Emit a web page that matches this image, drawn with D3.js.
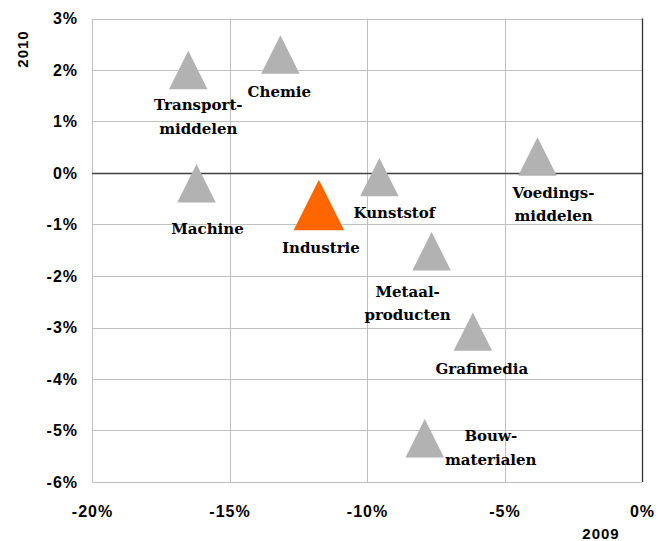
<!DOCTYPE html>
<html>
<head>
<meta charset="utf-8">
<script src="https://cdn.jsdelivr.net/npm/d3@7"></script>
<style>
  body { margin: 0; background: #fff; }
  .tick text { font-family: "Liberation Sans", Arial, sans-serif; font-weight: bold; font-size: 16px; letter-spacing: 1px; fill: #000; }
  .lbl { font-family: "DejaVu Serif", serif; font-weight: bold; font-size: 15px; fill: #000; }
  .title { font-family: "Liberation Sans", Arial, sans-serif; font-weight: bold; font-size: 15px; letter-spacing: 1px; }
</style>
</head>
<body>
<svg id="chart" width="669" height="541"></svg>
<script>
// sectors with growth 2009 (x) and 2010 (y), in percent
var sectors = ["Transport-middelen", "Chemie", "Machine", "Industrie", "Kunststof",
               "Voedings-middelen", "Metaal-producten", "Grafimedia", "Bouw-materialen"];
var growth2009 = [-16.5, -13.15, -16.2, -11.75, -9.55, -3.8, -7.65, -6.15, -7.9];
var growth2010 = [2.0, 2.3, -0.2, -0.62, -0.08, 0.32, -1.52, -3.08, -5.15];
var xTicks = [-20, -15, -10, -5, 0];
var yTicks = [3, 2, 1, 0, -1, -2, -3, -4, -5, -6];

// label offsets from the marker, in px
var labelOffset = {
  "Transport-middelen": [10, 35], "Chemie": [-1, 37], "Machine": [11, 45],
  "Industrie": [2, 43], "Kunststof": [15, 36], "Voedings-middelen": [16, 36],
  "Metaal-producten": [-24, 40], "Grafimedia": [9, 37], "Bouw-materialen": [66, -2]
};

var svg = d3.select("svg#chart");
var plotLeft = 92, plotRight = 642, plotTop = 18.5, plotBottom = 482;

var x = d3.scaleLinear().domain([-20, 0]).range([plotLeft, plotRight]);
var y = d3.scaleLinear().domain([-6, 3]).range([plotBottom, plotTop]);

var points = sectors.map(function(s, i) {
  return { name: s, x: growth2009[i], y: growth2010[i] };
});

//grid lines
var grid = svg.append("g");
grid.selectAll("line.h").data(yTicks).enter().append("line")
    .attr("x1", plotLeft).attr("x2", plotRight)
    .attr("y1", function(d) { return Math.round(y(d)) + 0.5; })
    .attr("y2", function(d) { return Math.round(y(d)) + 0.5; })
    .style("stroke", "#c0c0c0");
grid.selectAll("line.v").data(xTicks).enter().append("line")
    .attr("y1", plotTop).attr("y2", plotBottom)
    .attr("x1", function(d) { return Math.round(x(d)) + 0.5; })
    .attr("x2", function(d) { return Math.round(x(d)) + 0.5; })
    .style("stroke", "#c0c0c0");

//axis lines through zero
svg.append("line")
    .attr("x1", plotLeft).attr("x2", plotRight)
    .attr("y1", Math.round(y(0)) + 0.5).attr("y2", Math.round(y(0)) + 0.5)
    .style("stroke", "#404040").style("stroke-width", 1.3);
svg.append("line")
    .attr("x1", Math.round(x(0)) + 0.5).attr("x2", Math.round(x(0)) + 0.5)
    .attr("y1", plotTop).attr("y2", plotBottom)
    .style("stroke", "#303030").style("stroke-width", 1.3);

//tick labels
var xAxis = svg.append("g")
    .attr("transform", "translate(0," + plotBottom + ")")
    .call(d3.axisBottom(x).tickValues(xTicks).tickSize(0).tickPadding(24)
      .tickFormat(function(d) { return d + "%"; }));
xAxis.select(".domain").remove();

var yAxis = svg.append("g")
    .attr("transform", "translate(" + plotLeft + ",0)")
    .call(d3.axisLeft(y).tickValues(yTicks).tickSize(0).tickPadding(14)
      .tickFormat(function(d) { return d + "%"; }));
yAxis.select(".domain").remove();

//axis titles
svg.append("text").attr("class", "title")
    .attr("x", 601).attr("y", 539)
    .attr("text-anchor", "middle")
    .text("2009");
svg.append("text").attr("class", "title")
    .attr("transform", "translate(28,49) rotate(-90)")
    .attr("text-anchor", "middle")
    .text("2010");

//triangle markers (excel style: width about equal to height)
var triangle = {
  draw: function(context, size) {
    var h = Math.sqrt(size);
    context.moveTo(0, -h / 2);
    context.lineTo(h / 2, h / 2);
    context.lineTo(-h / 2, h / 2);
    context.closePath();
  }
};
var tri = d3.symbol().type(triangle);
svg.append("g").selectAll("path")
    .data(points)
    .enter().append("path")
    .attr("transform", function(d) { return "translate(" + x(d.x) + "," + y(d.y) + ")"; })
    .attr("d", function(d) { return tri.size(d.name == "Industrie" ? 2550 : 1480)(); })
    .style("fill", function(d) { return d.name == "Industrie" ? "#ff6600" : "#b2b2b2"; });

//labels
var labels = svg.append("g").selectAll("text")
    .data(points)
    .enter().append("text")
    .attr("class", "lbl")
    .attr("text-anchor", "middle")
    .attr("x", function(d) { return x(d.x) + labelOffset[d.name][0]; })
    .attr("y", function(d) { return y(d.y) + labelOffset[d.name][1]; });

labels.each(function(d) {
  var parts = d.name.split("-");
  var t = d3.select(this);
  if (parts.length == 1) {
    t.append("tspan").attr("dy", "0.35em").text(d.name);
  } else {
    t.append("tspan").attr("x", t.attr("x")).attr("dy", "0.35em").text(parts[0] + "-");
    t.append("tspan").attr("x", t.attr("x")).attr("dy", 23.4).text(parts[1]);
  }
});
</script>
</body>
</html>
